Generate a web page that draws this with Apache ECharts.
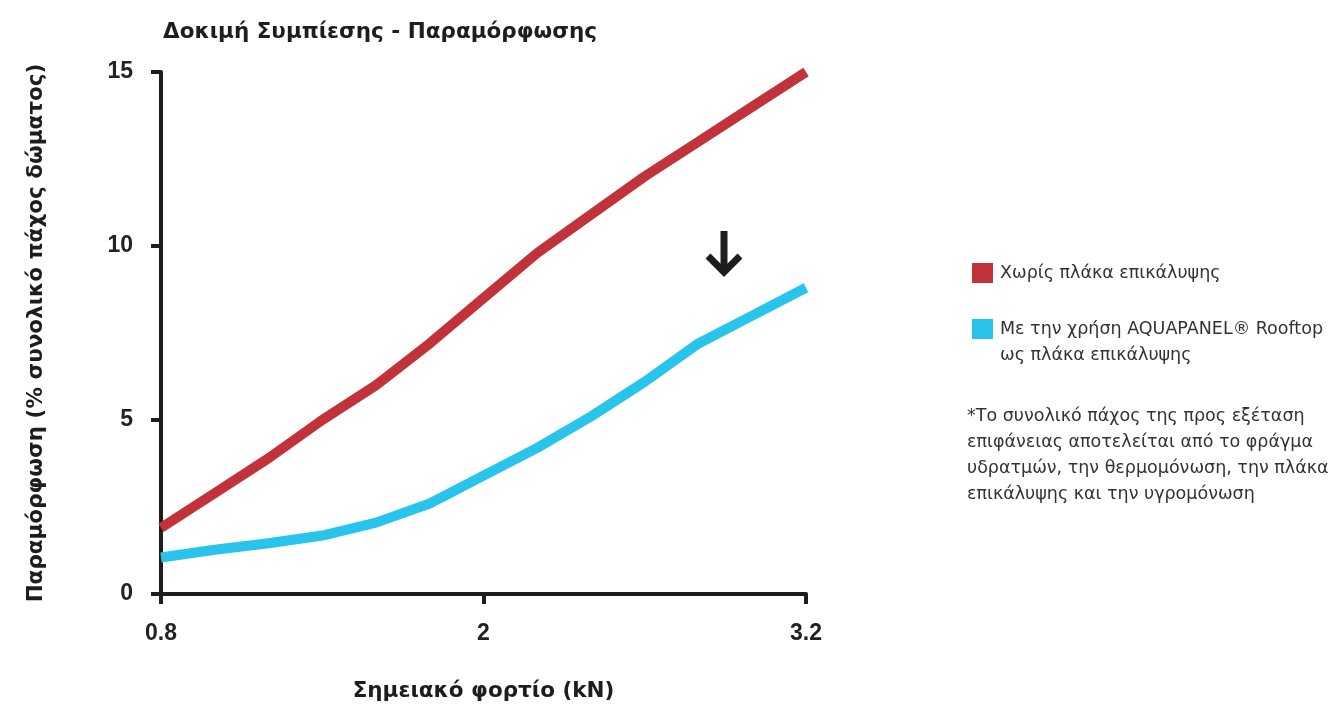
<!DOCTYPE html>
<html>
<head>
<meta charset="utf-8">
<script src="https://cdn.jsdelivr.net/npm/echarts@6/dist/echarts.min.js"></script>
<style>html,body{margin:0;padding:0;background:#fff;}#c{width:1335px;height:709px;}</style>
</head>
<body>
<div id="c"></div>
<script>
// Load (kN)
var loads = [0.8, 1.0, 1.2, 1.4, 1.6, 1.8, 2.0, 2.2, 2.4, 2.6, 2.8, 3.0, 3.2];
// Deformation (% of total roof thickness)
var withoutBoard = [1.9, 2.9, 3.9, 5.0, 6.0, 7.2, 8.5, 9.8, 10.9, 12.0, 13.0, 14.0, 15.0];
var withAquapanel = [1.05, 1.27, 1.46, 1.68, 2.05, 2.6, 3.4, 4.2, 5.1, 6.1, 7.2, 8.0, 8.8];
var xTicks = [0.8, 2, 3.2];
var seriesNames = ['Χωρίς πλάκα επικάλυψης', 'Με την χρήση AQUAPANEL® Rooftop\nως πλάκα επικάλυψης'];
var footnote = '*Το συνολικό πάχος της προς εξέταση\nεπιφάνειας αποτελείται από το φράγμα\nυδρατμών, την θερμομόνωση, την πλάκα\nεπικάλυψης και την υγρομόνωση';

function pairs(xs, ys) { return xs.map(function (x, i) { return [x, ys[i]]; }); }

var INK = '#1d1d1b';
var LEG_FONT = { fontFamily: 'DejaVu Sans', fontSize: 17.5, lineHeight: 26, fill: '#333' };
var chart = echarts.init(document.getElementById('c'));
chart.setOption({
  animation: false,
  backgroundColor: '#ffffff',
  title: {
    text: 'Δοκιμή Συμπίεσης - Παραμόρφωσης',
    left: 158, top: 16,
    textStyle: { fontFamily: 'DejaVu Sans', fontWeight: 'bold', fontSize: 21.5, color: INK }
  },
  grid: { left: 161, right: 529, top: 72, bottom: 115 },
  legend: {
    orient: 'vertical',
    left: 967, top: 255,
    itemWidth: 21, itemHeight: 20,
    itemGap: 30,
    icon: 'rect',
    formatter: function (name) { return name.split('\n')[0]; },
    textStyle: { fontFamily: 'DejaVu Sans', fontSize: 17.5, color: '#333', padding: [0, 0, 0, 2], lineHeight: 26 },
    data: seriesNames
  },
  xAxis: {
    type: 'value',
    min: 0.8, max: 3.2,
    name: 'Σημειακό φορτίο (kN)',
    nameLocation: 'middle', nameGap: 86,
    nameTextStyle: { fontFamily: 'DejaVu Sans', fontWeight: 'bold', fontSize: 21.5, color: INK },
    axisLine: { lineStyle: { color: INK, width: 4 } },
    axisTick: { show: true, length: 10, lineStyle: { color: INK, width: 4 }, customValues: xTicks },
    axisLabel: { customValues: xTicks, margin: 28, fontFamily: 'Liberation Sans', fontWeight: 'bold', fontSize: 23, color: '#222' },
    splitLine: { show: false }
  },
  yAxis: {
    type: 'value',
    min: 0, max: 15, interval: 5,
    name: 'Παραμόρφωση (% συνολικό πάχος δώματος)',
    nameLocation: 'middle', nameGap: 114,
    nameTextStyle: { fontFamily: 'DejaVu Sans', fontWeight: 'bold', fontSize: 21.5, color: INK },
    axisLine: { show: true, lineStyle: { color: INK, width: 4 } },
    axisTick: { show: true, length: 10, lineStyle: { color: INK, width: 4 } },
    axisLabel: { margin: 28, fontFamily: 'Liberation Sans', fontWeight: 'bold', fontSize: 23, color: '#222' },
    splitLine: { show: false }
  },
  series: [
    {
      name: seriesNames[0], type: 'line', data: pairs(loads, withoutBoard),
      showSymbol: false, symbol: 'none', color: '#c1323a',
      lineStyle: { width: 10, color: '#c1323a' }
    },
    {
      name: seriesNames[1], type: 'line', data: pairs(loads, withAquapanel),
      showSymbol: false, symbol: 'none', color: '#29c4ec',
      lineStyle: { width: 10, color: '#29c4ec' }
    }
  ],
  graphic: [
    {
      type: 'text', left: 1000, top: 342,
      style: Object.assign({ text: seriesNames[1].split('\n')[1] }, LEG_FONT)
    },
    {
      type: 'text', left: 967, top: 403,
      style: Object.assign({ text: footnote }, LEG_FONT)
    },
    {
      type: 'group',
      children: [
        { type: 'line', shape: { x1: 724, y1: 231, x2: 724, y2: 270 }, style: { stroke: INK, lineWidth: 7 } },
        { type: 'polyline', shape: { points: [[708, 256], [724, 272], [740, 256]] }, style: { stroke: INK, lineWidth: 7, fill: null, lineJoin: 'miter' } }
      ]
    }
  ]
});
</script>
</body>
</html>
